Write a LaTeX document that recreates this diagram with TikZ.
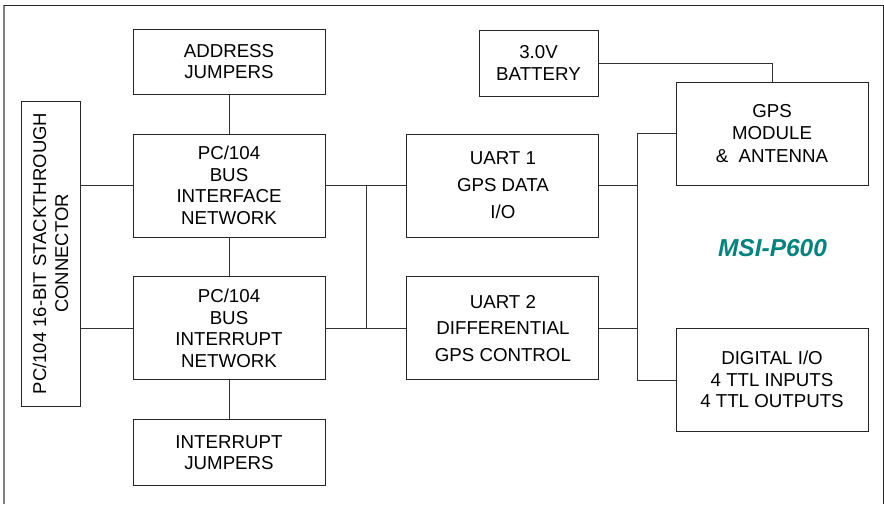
\documentclass[tikz,border=0pt]{standalone}
\usepackage{fontspec}
\setmainfont{Liberation Sans}
\usetikzlibrary{positioning}
\definecolor{msiteal}{RGB}{0,130,125}

\begin{document}
\begin{tikzpicture}[
    x=1pt, y=-1pt,
    node distance=39pt,
    block/.style={draw=black!85, line width=0.9pt, minimum width=192pt, minimum height=103pt, inner sep=0pt, align=center, font=\fontsize{18.7}{21.5}\selectfont},
    wire/.style={draw=black!80, line width=0.9pt}
]
\useasboundingbox (0,0) rectangle (884,504);
% frame, open at the bottom
\draw[gray, line width=1.3pt] (4,504) -- (4,5);
\draw[black!85, line width=1pt] (4,5) -- (883,5) -- (883,504);

\node[block] (busif) at (229,185.5) {PC/104\\BUS\\INTERFACE\\NETWORK};
\node[block, above=of busif, minimum height=65pt] (addr) {ADDRESS\\JUMPERS};
\node[block, below=of busif] (busint) {PC/104\\BUS\\INTERRUPT\\NETWORK};
\node[block, below=of busint, minimum height=66pt] (intj) {INTERRUPT\\JUMPERS};
\node[block, rotate=90, minimum width=305pt, minimum height=59pt, font=\fontsize{18.5}{22}\selectfont] (conn) at (50.5,253.5) {PC/104 16-BIT STACKTHROUGH\\CONNECTOR};
\node[block, right=81pt of busif, font=\fontsize{18.7}{27}\selectfont] (uart1) {UART 1\\GPS DATA\\I/O};
\node[block, below=of uart1, font=\fontsize{18.7}{26.5}\selectfont] (uart2) {UART 2\\DIFFERENTIAL\\GPS CONTROL};
\node[block, minimum width=119pt, minimum height=66pt] (batt) at (538.5,63) {3.0V\\BATTERY};
\node[block, font=\fontsize{18.7}{22.5}\selectfont] (gps) at (772,133.5) {GPS\\MODULE\\\&~~ANTENNA};
\node[block] (dio) at (772,379.5) {DIGITAL I/O\\4 TTL INPUTS\\4 TTL OUTPUTS};
\node[text=msiteal, font=\fontsize{24.5}{28}\selectfont\bfseries\itshape] (title) at (772.5,248.5) {MSI-P600};

\coordinate (lbus) at (366,0);
\coordinate (rbus) at (637,0);
\draw[wire] (addr) -- (busif);
\draw[wire] (busif) -- (busint);
\draw[wire] (busint) -- (intj);
\draw[wire] (busif.west) -- (busif.west -| conn.south);
\draw[wire] (busint.west) -- (busint.west -| conn.south);
\draw[wire] (busif) -- (uart1);
\draw[wire] (busint) -- (uart2);
\draw[wire] (busif.east -| lbus) -- (busint.east -| lbus);
\draw[wire] (batt.east) -| (gps.north);
\draw[wire] (uart1.east) -- (uart1.east -| rbus);
\draw[wire] (uart2.east) -- (uart2.east -| rbus);
\draw[wire] (gps.west |- uart1.north) -| (rbus |- uart2.south) -- (dio.west |- uart2.south);
\end{tikzpicture}
\end{document}
